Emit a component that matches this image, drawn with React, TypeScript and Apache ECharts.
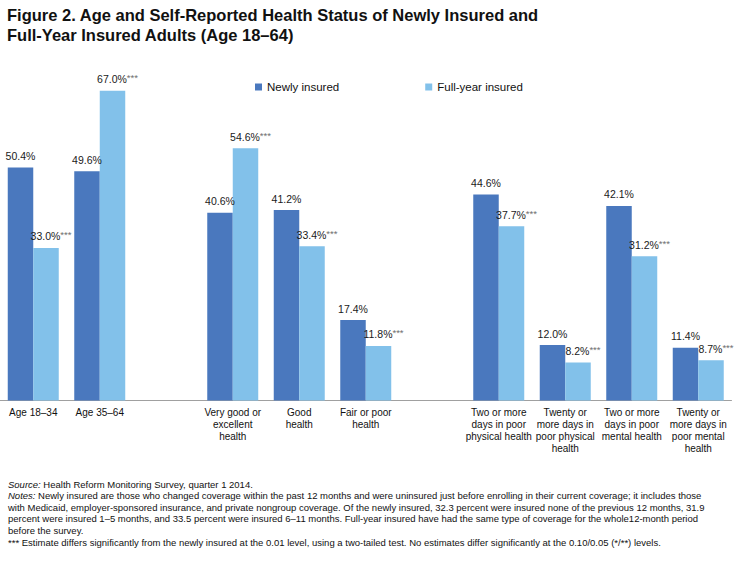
import React, { useEffect, useRef } from "react";
import * as echarts from "echarts";

const categories = [
  "Age 18–34",
  "Age 35–64",
  "",
  "Very good or\nexcellent\nhealth",
  "Good\nhealth",
  "Fair or poor\nhealth",
  "",
  "Two or more\ndays in poor\nphysical health",
  "Twenty or\nmore days in\npoor physical\nhealth",
  "Two or more\ndays in poor\nmental health",
  "Twenty or\nmore days in\npoor mental\nhealth",
];
const newlyInsured = [50.4, 49.6, null, 40.6, 41.2, 17.4, null, 44.6, 12.0, 42.1, 11.4];
const fullYearInsured = [33.0, 67.0, null, 54.6, 33.4, 11.8, null, 37.7, 8.2, 31.2, 8.7];
const fullYearSignificant = [true, true, false, true, true, true, false, true, true, true, true];

const titleLines = [
  "Figure 2. Age and Self-Reported Health Status of Newly Insured and",
  "Full-Year Insured Adults (Age 18–64)",
];
const noteLines: [string, string][] = [
  ["Source:", " Health Reform Monitoring Survey, quarter 1 2014."],
  ["Notes:", " Newly insured are those who changed coverage within the past 12 months and were uninsured just before enrolling in their current coverage; it includes those"],
  ["", "with Medicaid, employer-sponsored insurance, and private nongroup coverage. Of the newly insured, 32.3 percent were insured none of the previous 12 months, 31.9"],
  ["", "percent were insured 1–5 months, and 33.5 percent were insured 6–11 months. Full-year insured have had the same type of coverage for the whole12-month period"],
  ["", "before the survey."],
  ["", "*** Estimate differs significantly from the newly insured at the 0.01 level, using a two-tailed test. No estimates differ significantly at the 0.10/0.05 (*/**) levels."],
];

const FONT = "'Liberation Sans', Arial, sans-serif";
const DARK = "#4a78be";
const LIGHT = "#82c1ea";

export default function App() {
  const ref = useRef<HTMLDivElement>(null);
  useEffect(() => {
    if (!ref.current) return;
    const chart = echarts.init(ref.current, null, { renderer: "svg" });

    const rich = {
      v: { fontFamily: FONT, fontSize: 10.5, color: "#1a1a1a", lineHeight: 13 },
      s: { fontFamily: FONT, fontSize: 9.5, color: "#6f6f6f", verticalAlign: "top" as const, lineHeight: 13 },
    };

    const newlyData = newlyInsured.map((v) => ({ value: v }));
    const fullData = fullYearInsured.map((v, i) => ({
      value: v,
      label: fullYearSignificant[i] ? { offset: [5, 0] } : {},
    }));

    const graphics: any[] = [];
    titleLines.forEach((t, i) => {
      graphics.push({
        type: "text",
        x: 7,
        y: 6 + i * 20,
        style: {
          text: t,
          font: "bold 16.5px 'Liberation Sans', Arial, sans-serif",
          fill: "#111",
          verticalAlign: "top",
        },
      });
    });
    noteLines.forEach(([it, rest], i) => {
      graphics.push({
        type: "text",
        x: 8,
        y: 484 + i * 11.66,
        style: {
          text: (it ? "{i|" + it + "}" : "") + "{n|" + rest + "}",
          verticalAlign: "middle",
          rich: {
            i: { font: "italic 9.5px " + FONT, fill: "#111" },
            n: { font: "9.5px " + FONT, fill: "#111" },
          },
        },
      });
    });

    chart.setOption({
      animation: false,
      legend: {
        data: ["Newly insured", "Full-year insured"],
        left: 250,
        top: 76,
        itemWidth: 7,
        itemHeight: 7,
        itemGap: 86,
        icon: "rect",
        textStyle: { fontFamily: FONT, fontSize: 11.5, color: "#111" },
      },
      grid: { left: 0, right: 12.5, top: 77, bottom: 162.5, containLabel: false },
      xAxis: {
        type: "category",
        data: categories,
        axisTick: { show: false },
        axisLine: { lineStyle: { color: "#a0a0a0", width: 1 } },
        axisLabel: {
          interval: 0,
          fontFamily: FONT,
          fontSize: 10,
          lineHeight: 12,
          color: "#111",
          margin: 6,
          align: "center",
        },
      },
      yAxis: { type: "value", min: 0, max: 70, show: false, splitLine: { show: false } },
      series: [
        {
          name: "Newly insured",
          type: "bar",
          data: newlyData,
          barWidth: 25.5,
          barGap: "0%",
          itemStyle: { color: DARK },
          label: {
            show: true,
            position: "top",
            distance: 5,
            formatter: (p: any) => "{v|" + Number(p.value).toFixed(1) + "%}",
            rich,
          },
        },
        {
          name: "Full-year insured",
          type: "bar",
          data: fullData,
          barWidth: 25.5,
          barGap: "0%",
          itemStyle: { color: LIGHT },
          label: {
            show: true,
            position: "top",
            distance: 5,
            formatter: (p: any) =>
              "{v|" + Number(p.value).toFixed(1) + "%}" + (fullYearSignificant[p.dataIndex] ? "{s|***}" : ""),
            rich,
          },
        },
      ],
      graphic: graphics,
    });
    return () => chart.dispose();
  }, []);
  return (
    <div
      ref={ref}
      style={{ position: "absolute", left: 0, top: 0, width: 744, height: 563, background: "#fff" }}
    />
  );
}
